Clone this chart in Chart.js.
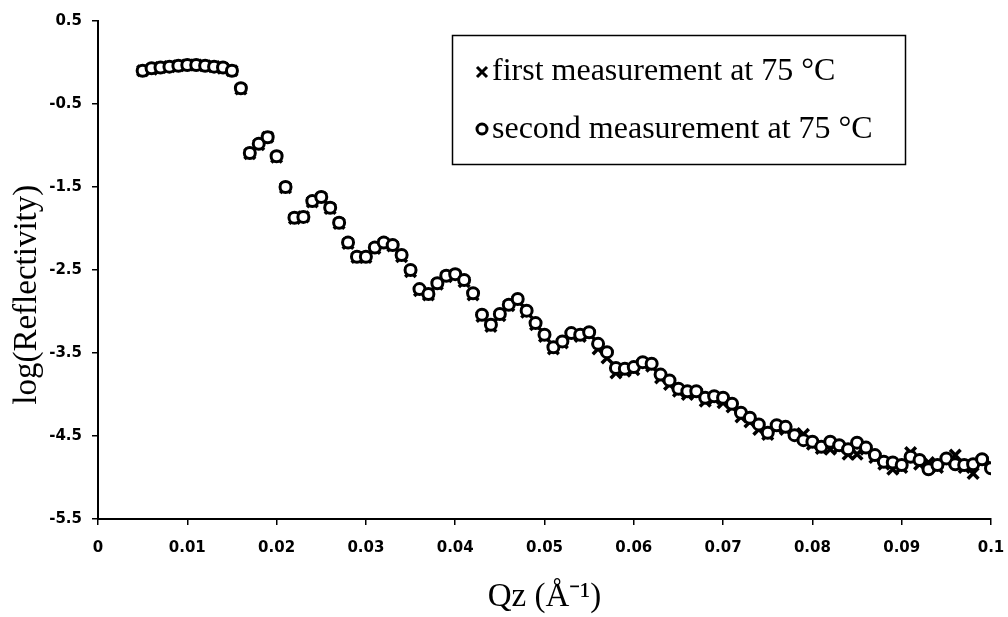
<!DOCTYPE html>
<html lang="en">
<head>
  <meta charset="UTF-8">
  <title>log(Reflectivity) vs Qz</title>
  <script src="https://cdn.jsdelivr.net/npm/chart.js"></script>
  <style>
    html, body {
      margin: 0;
      padding: 0;
      background: #fff;
    }
    #chart-container {
      width: 1008px;
      height: 617px;
    }
  </style>
</head>
<body>
  <div id="chart-container">
    <canvas id="reflChart"></canvas>
  </div>

  <script>
    // Qz values (1/Å)
    const qz = [
      0.005, 0.006, 0.007, 0.008, 0.009, 0.010, 0.011, 0.012, 0.013, 0.014,
      0.015, 0.016, 0.017, 0.018, 0.019, 0.020, 0.021, 0.022, 0.023, 0.024,
      0.025, 0.026, 0.027, 0.028, 0.029, 0.030, 0.031, 0.032, 0.033, 0.034,
      0.035, 0.036, 0.037, 0.038, 0.039, 0.040, 0.041, 0.042, 0.043, 0.044,
      0.045, 0.046, 0.047, 0.048, 0.049, 0.050, 0.051, 0.052, 0.053, 0.054,
      0.055, 0.056, 0.057, 0.058, 0.059, 0.060, 0.061, 0.062, 0.063, 0.064,
      0.065, 0.066, 0.067, 0.068, 0.069, 0.070, 0.071, 0.072, 0.073, 0.074,
      0.075, 0.076, 0.077, 0.078, 0.079, 0.080, 0.081, 0.082, 0.083, 0.084,
      0.085, 0.086, 0.087, 0.088, 0.089, 0.090, 0.091, 0.092, 0.093, 0.094,
      0.095, 0.096, 0.097, 0.098, 0.099, 0.100
    ];

    // first measurement at 75 °C (crosses)
    const firstRun = [
      -0.10, -0.08, -0.06, -0.05, -0.04, -0.03, -0.03, -0.04, -0.05, -0.07,
      -0.10, -0.32, -1.10, -0.99, -0.90, -1.14, -1.51, -1.88, -1.86, -1.68,
      -1.63, -1.76, -1.94, -2.18, -2.35, -2.35, -2.24, -2.18, -2.21, -2.34,
      -2.52, -2.75, -2.80, -2.67, -2.58, -2.56, -2.64, -2.80, -3.06, -3.18,
      -3.05, -2.93, -2.87, -3.01, -3.16, -3.30, -3.45, -3.38, -3.28, -3.30,
      -3.27, -3.45, -3.56, -3.74, -3.72, -3.70, -3.63, -3.66, -3.80, -3.88,
      -3.96, -4.00, -3.98, -4.08, -4.05, -4.10, -4.15, -4.27, -4.33, -4.42,
      -4.48, -4.40, -4.42, -4.47, -4.48, -4.60, -4.65, -4.66, -4.64, -4.72,
      -4.72, -4.66, -4.76, -4.84, -4.90, -4.88, -4.70, -4.84, -4.82, -4.88,
      -4.80, -4.73, -4.88, -4.95, -4.80, -4.85
    ];

    // second measurement at 75 °C (open circles)
    const secondRun = [
      -0.10, -0.07, -0.06, -0.05, -0.04, -0.03, -0.03, -0.04, -0.05, -0.06,
      -0.10, -0.31, -1.09, -0.98, -0.90, -1.13, -1.50, -1.87, -1.86, -1.67,
      -1.62, -1.75, -1.93, -2.17, -2.34, -2.34, -2.23, -2.17, -2.20, -2.32,
      -2.50, -2.73, -2.79, -2.66, -2.57, -2.55, -2.62, -2.78, -3.04, -3.16,
      -3.03, -2.92, -2.85, -2.99, -3.14, -3.28, -3.43, -3.36, -3.26, -3.28,
      -3.25, -3.39, -3.49, -3.68, -3.69, -3.67, -3.61, -3.63, -3.76, -3.83,
      -3.93, -3.96, -3.96, -4.04, -4.02, -4.04, -4.11, -4.22, -4.28, -4.36,
      -4.46, -4.37, -4.39, -4.49, -4.55, -4.57, -4.63, -4.57, -4.61, -4.66,
      -4.58, -4.64, -4.73, -4.81, -4.82, -4.85, -4.75, -4.79, -4.90, -4.85,
      -4.77, -4.84, -4.85, -4.84, -4.78, -4.89
    ];

    const xTicks = [0, 0.01, 0.02, 0.03, 0.04, 0.05, 0.06, 0.07, 0.08, 0.09, 0.1];
    const yTicks = [-5.5, -4.5, -3.5, -2.5, -1.5, -0.5, 0.5];

    const seriesLabels = ['first measurement at 75 °C', 'second measurement at 75 °C'];

    // boxed legend in the top right, like the original figure
    const boxLegend = {
      id: 'boxLegend',
      afterDraw(chart) {
        const ctx = chart.ctx;
        ctx.save();
        ctx.fillStyle = '#fff';
        ctx.fillRect(452, 35, 453, 129);
        ctx.strokeStyle = '#000';
        ctx.lineWidth = 1.5;
        ctx.strokeRect(452.5, 35.5, 453, 129);

        const rows = [{ my: 72, ty: 80 }, { my: 129, ty: 138 }];
        const mx = 482;
        chart.data.datasets.forEach((ds, i) => {
          const r = rows[i];
          ctx.lineWidth = 3;
          ctx.strokeStyle = '#000';
          if (ds.pointStyle === 'crossRot') {
            const d = 5;
            ctx.beginPath();
            ctx.moveTo(mx - d, r.my - d); ctx.lineTo(mx + d, r.my + d);
            ctx.moveTo(mx + d, r.my - d); ctx.lineTo(mx - d, r.my + d);
            ctx.stroke();
          } else {
            ctx.beginPath();
            ctx.arc(mx, r.my, 5, 0, Math.PI * 2);
            ctx.fillStyle = '#fff';
            ctx.fill();
            ctx.stroke();
          }
          ctx.fillStyle = '#000';
          ctx.font = '32px "Liberation Serif"';
          ctx.textBaseline = 'alphabetic';
          ctx.textAlign = 'left';
          ctx.fillText(ds.label, 492, r.ty);
        });
        ctx.restore();
      }
    };

    Chart.defaults.color = '#000';

    const ctx = document.getElementById('reflChart').getContext('2d');
    new Chart(ctx, {
      type: 'scatter',
      data: {
        datasets: [
          {
            label: seriesLabels[0],
            data: qz.map((q, i) => ({ x: q, y: firstRun[i] })),
            pointStyle: 'crossRot',
            pointRadius: 7.5,
            pointBorderWidth: 3.5,
            borderColor: '#000',
            backgroundColor: '#000',
            order: 1
          },
          {
            label: seriesLabels[1],
            data: qz.map((q, i) => ({ x: q, y: secondRun[i] })),
            pointStyle: 'circle',
            pointRadius: 5.5,
            pointBorderWidth: 3,
            borderColor: '#000',
            backgroundColor: '#fff',
            order: 0
          }
        ]
      },
      options: {
        responsive: true,
        maintainAspectRatio: false,
        animation: false,
        layout: { padding: { top: 21, right: 17, left: 0, bottom: 0 } },
        plugins: {
          legend: { display: false },
          tooltip: { enabled: false }
        },
        scales: {
          x: {
            type: 'linear',
            min: 0,
            max: 0.1,
            afterBuildTicks: s => { s.ticks = xTicks.map(v => ({ value: v })); },
            afterFit: s => {
              s.height = 98;
              s.paddingRight = 0;
              s.paddingLeft = 0;
            },
            ticks: {
              autoSkip: false,
              maxRotation: 0,
              padding: 14,
              font: { family: 'DejaVu Sans', weight: 'bold', size: 15 },
              callback: v => String(v)
            },
            grid: { drawOnChartArea: false, drawTicks: true, tickLength: 6, color: '#000', lineWidth: 1.5 },
            border: { color: '#000', width: 2 },
            title: {
              display: true,
              text: 'Qz (Å⁻¹)',
              font: { family: 'Liberation Serif', size: 33 },
              padding: { top: 0, bottom: 0 }
            }
          },
          y: {
            type: 'linear',
            min: -5.5,
            max: 0.5,
            afterBuildTicks: s => { s.ticks = yTicks.map(v => ({ value: v })); },
            afterFit: s => { s.width = 98; },
            ticks: {
              padding: 10,
              font: { family: 'DejaVu Sans', weight: 'bold', size: 15 },
              callback: v => String(v)
            },
            grid: { drawOnChartArea: false, drawTicks: true, tickLength: 6, color: '#000', lineWidth: 1.5 },
            border: { color: '#000', width: 2 },
            title: {
              display: true,
              text: 'log(Reflectivity)\u00a0\u00a0\u00a0\u00a0\u00a0\u00a0',
              font: { family: 'Liberation Serif', size: 33 },
              padding: { top: 8, bottom: 0 }
            }
          }
        }
      },
      plugins: [boxLegend]
    });
  </script>
</body>
</html>
